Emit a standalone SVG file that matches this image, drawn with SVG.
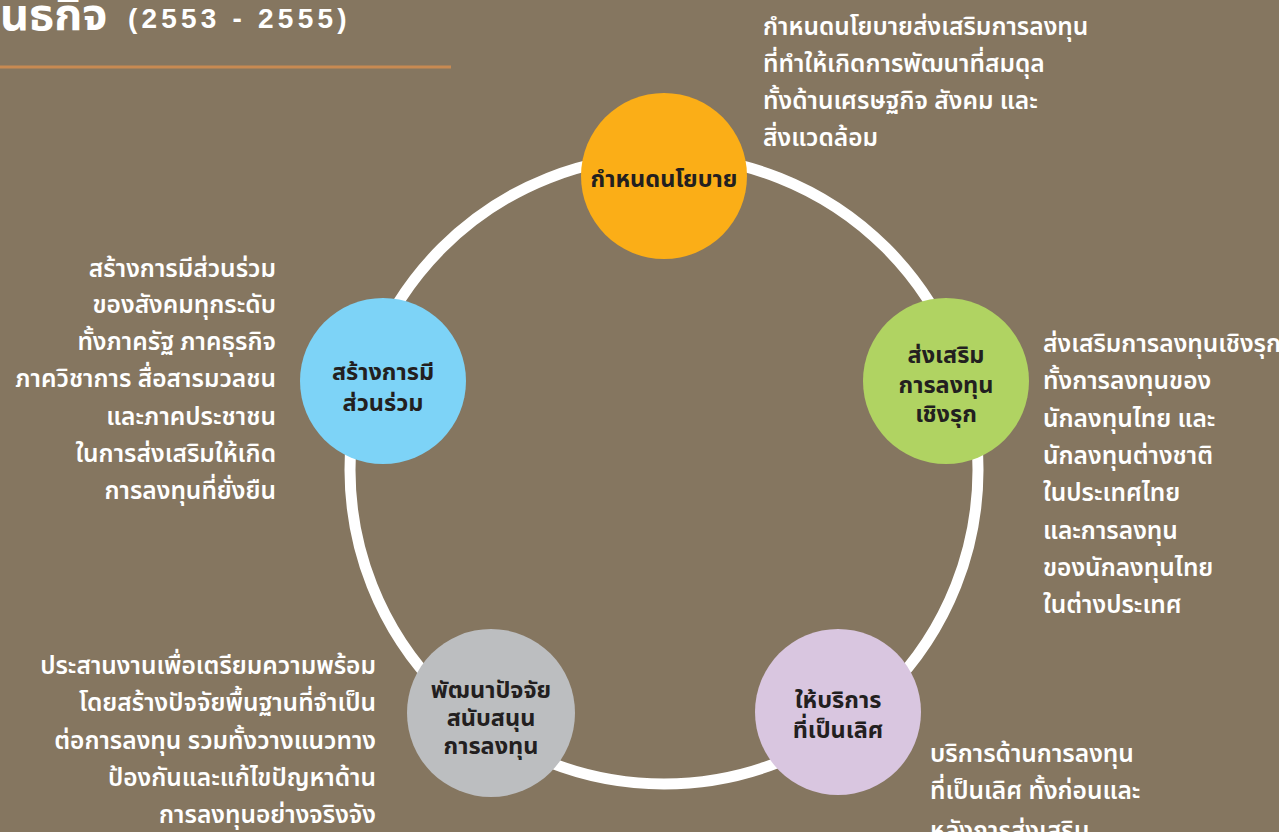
<svg xmlns="http://www.w3.org/2000/svg" width="1279" height="832" viewBox="0 0 1279 832">
<style>
.bg{fill:#857660}
.ring{fill:none;stroke:#ffffff;stroke-width:11}
.desc{font-family:"Noto Sans Thai","Noto Sans Thai UI","Liberation Sans",sans-serif;font-size:24.5px;font-weight:600;fill:#ffffff}
.lbl{font-family:"Noto Sans Thai","Noto Sans Thai UI","Liberation Sans",sans-serif;font-size:23.5px;font-weight:bold;fill:#231f20;text-anchor:middle}
.r{text-anchor:end}
.title{font-family:"Noto Sans Thai","Liberation Sans",sans-serif;font-weight:bold;fill:#ffffff}
.num{font-family:"Liberation Sans",Arial,sans-serif;font-weight:bold;fill:#ffffff;font-size:28px;letter-spacing:4.2px}
</style>
<rect class="bg" x="0" y="0" width="1279" height="832"/>
<g id="title">
<text class="title" x="0" y="30" font-size="45">นธกิจ</text>
<text class="num" x="128" y="28">(2553 - 2555)</text>
<line x1="0" y1="67" x2="451" y2="67" stroke="#c88a52" stroke-width="3"/>
</g>
<g id="connectors">
<circle class="ring" cx="664" cy="470" r="314"/>
</g>
<g id="node-policy">
<circle cx="664" cy="176" r="83" fill="#fbae17"/>
<text class="lbl" x="664" y="187">กำหนดนโยบาย</text>
</g>
<g id="node-participation">
<circle cx="383" cy="381" r="83" fill="#7dd3f7"/>
<text class="lbl" x="383" y="380">สร้างการมี</text>
<text class="lbl" x="383" y="411">ส่วนร่วม</text>
</g>
<g id="node-promote">
<circle cx="946" cy="381" r="83" fill="#b0d362"/>
<text class="lbl" x="946" y="363">ส่งเสริม</text>
<text class="lbl" x="946" y="393">การลงทุน</text>
<text class="lbl" x="946" y="422">เชิงรุก</text>
</g>
<g id="node-develop">
<circle cx="491" cy="713" r="84" fill="#bcbec0"/>
<text class="lbl" x="491" y="698">พัฒนาปัจจัย</text>
<text class="lbl" x="491" y="726">สนับสนุน</text>
<text class="lbl" x="491" y="754">การลงทุน</text>
</g>
<g id="node-service">
<circle cx="838" cy="712" r="83" fill="#d9c6e0"/>
<text class="lbl" x="838" y="708">ให้บริการ</text>
<text class="lbl" x="838" y="738">ที่เป็นเลิศ</text>
</g>
<g id="desc-policy">
<text class="desc" x="763" y="35">กำหนดนโยบายส่งเสริมการลงทุน</text>
<text class="desc" x="763" y="72">ที่ทำให้เกิดการพัฒนาที่สมดุล</text>
<text class="desc" x="763" y="109">ทั้งด้านเศรษฐกิจ สังคม และ</text>
<text class="desc" x="763" y="146">สิ่งแวดล้อม</text>
</g>
<g id="desc-participation">
<text class="desc r" x="276" y="277">สร้างการมีส่วนร่วม</text>
<text class="desc r" x="276" y="313">ของสังคมทุกระดับ</text>
<text class="desc r" x="276" y="350">ทั้งภาครัฐ ภาคธุรกิจ</text>
<text class="desc r" x="276" y="387">ภาควิชาการ สื่อสารมวลชน</text>
<text class="desc r" x="276" y="425">และภาคประชาชน</text>
<text class="desc r" x="276" y="462">ในการส่งเสริมให้เกิด</text>
<text class="desc r" x="276" y="499">การลงทุนที่ยั่งยืน</text>
</g>
<g id="desc-promote">
<text class="desc" x="1043" y="352">ส่งเสริมการลงทุนเชิงรุก</text>
<text class="desc" x="1043" y="389">ทั้งการลงทุนของ</text>
<text class="desc" x="1043" y="427">นักลงทุนไทย และ</text>
<text class="desc" x="1043" y="464">นักลงทุนต่างชาติ</text>
<text class="desc" x="1043" y="501">ในประเทศไทย</text>
<text class="desc" x="1043" y="539">และการลงทุน</text>
<text class="desc" x="1043" y="576">ของนักลงทุนไทย</text>
<text class="desc" x="1043" y="613">ในต่างประเทศ</text>
</g>
<g id="desc-develop">
<text class="desc r" x="376" y="674">ประสานงานเพื่อเตรียมความพร้อม</text>
<text class="desc r" x="376" y="711">โดยสร้างปัจจัยพื้นฐานที่จำเป็น</text>
<text class="desc r" x="376" y="749">ต่อการลงทุน รวมทั้งวางแนวทาง</text>
<text class="desc r" x="376" y="786">ป้องกันและแก้ไขปัญหาด้าน</text>
<text class="desc r" x="376" y="823">การลงทุนอย่างจริงจัง</text>
</g>
<g id="desc-service">
<text class="desc" x="930" y="762">บริการด้านการลงทุน</text>
<text class="desc" x="930" y="799">ที่เป็นเลิศ ทั้งก่อนและ</text>
<text class="desc" x="930" y="839">หลังการส่งเสริม</text>
</g>
</svg>
